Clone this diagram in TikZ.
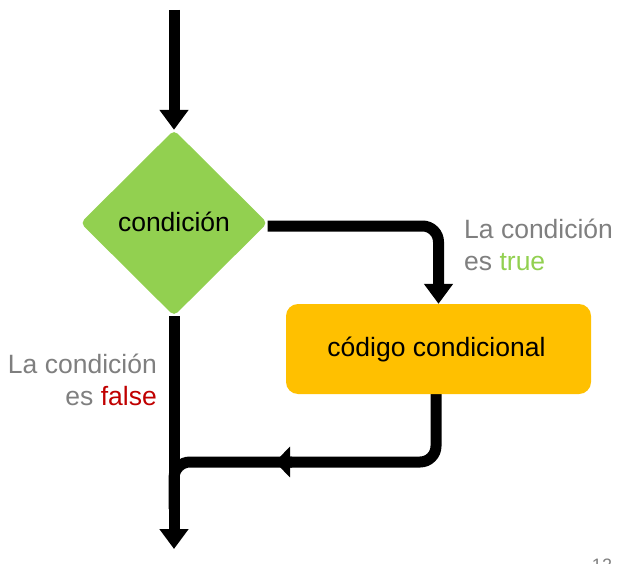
\documentclass[tikz,border=0pt]{standalone}
\usepackage{fontspec}
\setmainfont{Liberation Sans}
\usetikzlibrary{shapes.geometric,arrows.meta,backgrounds}
\definecolor{cgreen}{HTML}{92D050}
\definecolor{corange}{HTML}{FFC000}
\definecolor{cgray}{HTML}{7F7F7F}
\definecolor{cred}{HTML}{C00000}
\begin{document}
\begin{tikzpicture}[x=1pt,y=-1pt,
  big/.style={font=\fontsize{26.5}{32}\selectfont},
  lbl/.style={big,text=cgray,inner sep=0pt},
  flow/.style={line width=11pt,draw=black},
  arr/.style={flow,-{Triangle[width=28pt,length=20pt]}},
  midarr/.style={flow,-{Triangle[width=30pt,length=15pt]}},
  decision/.style={diamond,fill=cgreen,minimum width=187pt,minimum height=186pt,inner sep=0pt,rounded corners=5pt,big},
  codebox/.style={rectangle,fill=corange,minimum width=305pt,minimum height=90pt,rounded corners=12pt,inner sep=0pt,big}]
\useasboundingbox (0,0) rectangle (642,564);
\node[decision] (cond) at (174,223) {\raisebox{2pt}{condición}};
\node[codebox] (code) at (438.5,349) {\hspace*{-4pt}código condicional};
\coordinate (start) at (174,10);
\coordinate (end) at (174,549);
\coordinate (m) at (275,462);
\coordinate (m2) at (292,462);
\begin{scope}[on background layer]
\draw[arr] (start) -- (cond.north);
\draw[arr,rounded corners=16pt] ([yshift=-3pt]cond.east) -| (code.north);
\draw[midarr,rounded corners=16pt] ([xshift=-2.5pt,yshift=9pt]code.south) |- (m);
\draw[flow,rounded corners=16pt] (m2) -| ([yshift=40pt]end);
\draw[arr] (cond.south) -- (end);
\end{scope}
\node[lbl,anchor=base west] (t1) at (464,238) {La condición};
\node[lbl,anchor=base west] (t2) at (464,270) {es \textcolor{cgreen}{true}};
\node[lbl,anchor=base east] (f1) at (157,373) {La condición};
\node[lbl,anchor=base east] (f2) at (157,405) {es \textcolor{cred}{false}};
\node[anchor=north,inner sep=0pt,text=cgray,font=\fontsize{18}{20}\selectfont] (pg) at (602,559) {12};
\end{tikzpicture}
\end{document}
